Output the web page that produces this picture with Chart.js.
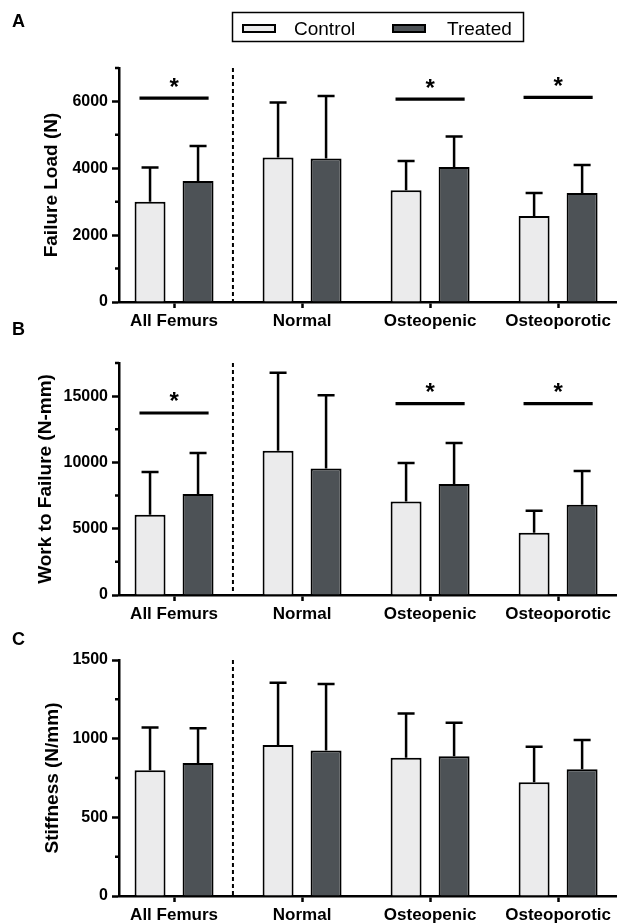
<!DOCTYPE html>
<html>
<head>
<meta charset="utf-8">
<script src="https://cdn.jsdelivr.net/npm/chart.js@4.4.1/dist/chart.umd.min.js"></script>
<style>
  html, body { margin: 0; padding: 0; background: #fff; width: 617px; height: 924px; overflow: hidden; }
  .panel { position: absolute; left: 0; width: 617px; }
  .letter { position: absolute; left: 12px; font: bold 18px "Liberation Sans", Arial, sans-serif; line-height: 18px; color: #000; }
</style>
</head>
<body>
<div class="panel" style="top:0;height:340px"><canvas id="chartA"></canvas></div>
<div class="panel" style="top:340px;height:293px"><canvas id="chartB"></canvas></div>
<div class="panel" style="top:633px;height:301px"><canvas id="chartC"></canvas></div>
<div class="letter" style="top:12px">A</div>
<div class="letter" style="top:320px">B</div>
<div class="letter" style="top:630px">C</div>
<script>
// categories and series
const categories = ["All Femurs", "Normal", "Osteopenic", "Osteoporotic"];
const seriesNames = ["Control", "Treated"];
const fills = ["#ebebec", "#4d5256"];

// A - failure load (N), mean and upper SD
const loadControl = [3000, 4320, 3340, 2570];
const loadControlSD = [1020, 1650, 875, 690];
const loadTreated = [3620, 4290, 4040, 3260];
const loadTreatedSD = [1050, 1870, 910, 835];
const loadTicks = [0, 2000, 4000, 6000];
const loadMinorTicks = [1000, 3000, 5000, 7000];
const loadSigGroups = [0, 2, 3];
const loadSigLevels = [6100, 6070, 6120];

// B - work to failure (N-mm)
const workControl = [6050, 10890, 7060, 4690];
const workControlSD = [3220, 5870, 2890, 1660];
const workTreated = [7610, 9550, 8370, 6800];
const workTreatedSD = [3100, 5520, 3100, 2550];
const workTicks = [0, 5000, 10000, 15000];
const workMinorTicks = [2500, 7500, 12500, 17500];
const workSigGroups = [0, 2, 3];
const workSigLevels = [13730, 14440, 14440];

// C - stiffness (N/mm)
const stiffControl = [800, 959, 878, 723];
const stiffControlSD = [271, 397, 282, 225];
const stiffTreated = [846, 925, 889, 806];
const stiffTreatedSD = [221, 422, 212, 185];
const stiffTicks = [0, 500, 1000, 1500];
const stiffMinorTicks = [250, 750, 1250];

Chart.defaults.font.family = '"Liberation Sans", Arial, sans-serif';
Chart.defaults.color = "#000";

// upper error bars with caps
const errorBars = {
  id: "errorBars",
  afterDatasetsDraw(chart) {
    const ctx = chart.ctx, y = chart.scales.y;
    ctx.save();
    ctx.strokeStyle = "#000";
    ctx.lineWidth = 2.5;
    chart.data.datasets.forEach((ds, i) => {
      chart.getDatasetMeta(i).data.forEach((bar, j) => {
        const top = y.getPixelForValue(ds.data[j].y + ds.sd[j]);
        ctx.beginPath();
        ctx.moveTo(bar.x, bar.y);
        ctx.lineTo(bar.x, top);
        ctx.moveTo(bar.x - 8.5, top);
        ctx.lineTo(bar.x + 8.5, top);
        ctx.stroke();
      });
    });
    ctx.restore();
  }
};

// short minor ticks, dashed separator, significance bars
const extras = {
  id: "extras",
  afterDraw(chart, args, opts) {
    const ctx = chart.ctx, x = chart.scales.x, y = chart.scales.y;
    const area = chart.chartArea;
    ctx.save();
    ctx.strokeStyle = "#000";
    ctx.fillStyle = "#000";
    ctx.lineWidth = 2.5;
    ctx.beginPath();
    (opts.minor || []).forEach(v => {
      const py = y.getPixelForValue(v);
      ctx.moveTo(area.left, py);
      ctx.lineTo(area.left - 4, py);
    });
    ctx.stroke();

    ctx.lineWidth = 2;
    ctx.setLineDash([4, 3]);
    const sx = x.getPixelForValue(opts.separator);
    ctx.beginPath();
    ctx.moveTo(sx, area.top);
    ctx.lineTo(sx, area.bottom);
    ctx.stroke();
    ctx.setLineDash([]);

    ctx.lineWidth = 3.2;
    ctx.font = 'bold 24px "Liberation Sans", Arial, sans-serif';
    ctx.textAlign = "center";
    ctx.textBaseline = "alphabetic";
    const m = ctx.measureText("*");
    const half = (m.actualBoundingBoxAscent - m.actualBoundingBoxDescent) / 2;
    (opts.sigGroups || []).forEach((g, k) => {
      const py = y.getPixelForValue(opts.sigLevels[k]);
      ctx.beginPath();
      ctx.moveTo(x.getPixelForValue(g - 0.27), py);
      ctx.lineTo(x.getPixelForValue(g + 0.27), py);
      ctx.stroke();
      ctx.fillText("*", x.getPixelForValue(g), py - 16 + half);
    });
    ctx.restore();
  }
};

// framed legend for panel A
const framedLegend = {
  id: "framedLegend",
  afterDraw(chart, args, opts) {
    if (!opts.show) return;
    const ctx = chart.ctx;
    const ds = chart.data.datasets;
    ctx.save();
    ctx.strokeStyle = "#000";
    ctx.lineWidth = 1.5;
    ctx.strokeRect(232.5, 12.5, 291, 29);
    const boxX = [243, 393], textX = [294, 447];
    ctx.font = '19px "Liberation Sans", Arial, sans-serif';
    ctx.textBaseline = "alphabetic";
    ds.forEach((d, i) => {
      ctx.fillStyle = d.backgroundColor;
      ctx.fillRect(boxX[i], 25, 32, 7);
      ctx.lineWidth = 2;
      ctx.strokeRect(boxX[i], 25, 32, 7);
      ctx.fillStyle = "#000";
      ctx.fillText(d.label, textX[i], 35);
    });
    ctx.restore();
  }
};

function makeChart(id, p) {
  const series = [p.control, p.treated];
  const sds = [p.controlSD, p.treatedSD];
  return new Chart(document.getElementById(id), {
    type: "bar",
    data: {
      datasets: seriesNames.map((name, s) => ({
        label: name,
        data: series[s].map((v, i) => ({ x: i, y: v })),
        sd: sds[s],
        backgroundColor: fills[s],
        borderColor: "#000",
        borderWidth: 2,
        categoryPercentage: 0.75,
        barPercentage: 0.645
      }))
    },
    options: {
      responsive: true,
      maintainAspectRatio: false,
      animation: false,
      layout: { padding: { top: p.padTop, left: 0, right: 0, bottom: 0 } },
      plugins: {
        legend: { display: false },
        tooltip: { enabled: false },
        extras: { minor: p.minor, separator: 0.46, sigGroups: p.sigGroups, sigLevels: p.sigLevels },
        framedLegend: { show: p.legend }
      },
      scales: {
        x: {
          type: "linear",
          offset: false,
          min: -0.43,
          max: 3.46,
          afterBuildTicks: a => { a.ticks = categories.map((c, i) => ({ value: i })); },
          afterFit: s => { s.height = 38; },
          ticks: {
            autoSkip: false,
            maxRotation: 0,
            padding: 3,
            font: { size: 17, weight: "bold" },
            callback: v => categories[Math.round(v)]
          },
          grid: { offset: false, drawOnChartArea: false, tickLength: 6, tickWidth: 2.5, tickColor: "#000" },
          border: { color: "#000", width: 2.5 }
        },
        y: {
          min: 0,
          max: p.max,
          afterBuildTicks: a => { a.ticks = p.ticks.map(v => ({ value: v })); },
          afterFit: s => { s.width = 119; },
          ticks: {
            padding: 4,
            font: { size: 16, weight: "bold" },
            callback: v => String(v)
          },
          grid: { drawOnChartArea: false, tickLength: 7, tickWidth: 2.5, tickColor: "#000" },
          border: { color: "#000", width: 2.5 },
          title: {
            display: true,
            text: p.title,
            font: { size: 19, weight: "bold" },
            padding: { top: p.titlePad, bottom: 0 }
          }
        }
      }
    },
    plugins: [errorBars, extras, framedLegend]
  });
}

makeChart("chartA", {
  control: loadControl, controlSD: loadControlSD,
  treated: loadTreated, treatedSD: loadTreatedSD,
  ticks: loadTicks, minor: loadMinorTicks, max: 7000,
  sigGroups: loadSigGroups, sigLevels: loadSigLevels,
  title: "Failure Load (N)", titlePad: 40, padTop: 68, legend: true
});
makeChart("chartB", {
  control: workControl, controlSD: workControlSD,
  treated: workTreated, treatedSD: workTreatedSD,
  ticks: workTicks, minor: workMinorTicks, max: 17500,
  sigGroups: workSigGroups, sigLevels: workSigLevels,
  title: "Work to Failure (N-mm)", titlePad: 34, padTop: 23, legend: false
});
makeChart("chartC", {
  control: stiffControl, controlSD: stiffControlSD,
  treated: stiffTreated, treatedSD: stiffTreatedSD,
  ticks: stiffTicks, minor: stiffMinorTicks, max: 1500,
  sigGroups: [], sigLevels: [],
  title: "Stiffness (N/mm)", titlePad: 41, padTop: 27, legend: false
});
</script>
</body>
</html>
